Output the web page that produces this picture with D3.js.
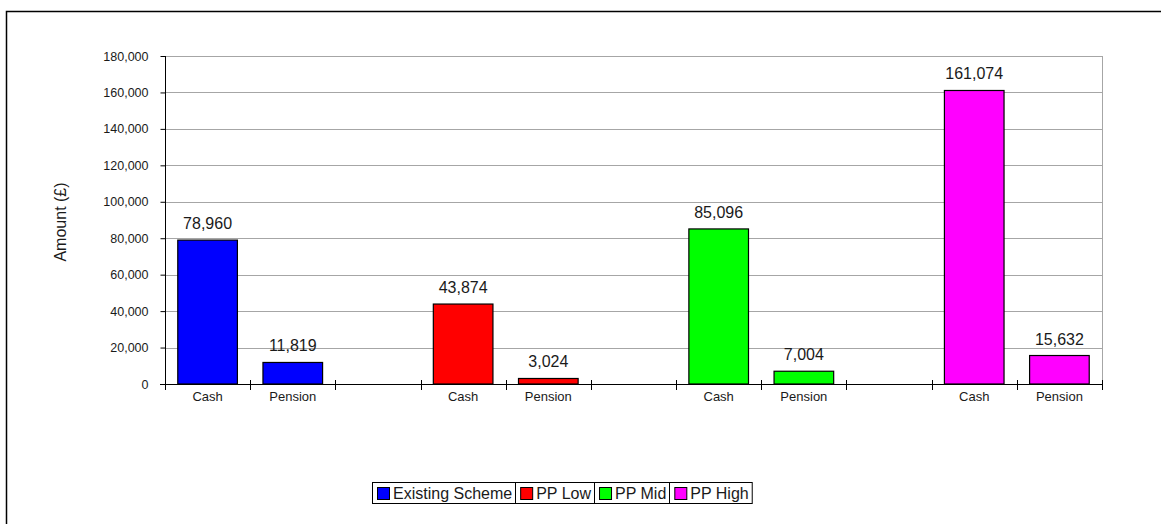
<!DOCTYPE html>
<html>
<head>
<meta charset="utf-8">
<script src="https://cdn.jsdelivr.net/npm/d3@7"></script>
<style>
  html, body { margin: 0; padding: 0; background: #fff; }
  svg { display: block; font-family: "Liberation Sans", Arial, sans-serif; }
</style>
</head>
<body>
<svg id="chart" width="1161" height="524"></svg>
<script>
// Pension options: cash lump sum vs annual pension
const seriesNames = ["Existing Scheme", "PP Low", "PP Mid", "PP High"];
const seriesColors = ["#0000ff", "#ff0000", "#00ff00", "#ff00ff"];
const itemLabels = ["Cash", "Pension"];
const existingScheme = [78960, 11819];
const ppLow = [43874, 3024];
const ppMid = [85096, 7004];
const ppHigh = [161074, 15632];
const yTicks = [0, 20000, 40000, 60000, 80000, 100000, 120000, 140000, 160000, 180000];

const seriesValues = [existingScheme, ppLow, ppMid, ppHigh];

// Slots along the x axis: Cash, Pension, spacer for each series (no spacer after the last)
const slots = [];
seriesValues.forEach((vals, si) => {
  vals.forEach((v, i) => slots.push({ key: si + "-" + i, label: itemLabels[i], value: v, series: si }));
  if (si < seriesValues.length - 1) slots.push({ key: "gap-" + si, label: "", value: null, series: si });
});

const svg = d3.select("#chart");
const plotL = 165, plotR = 1102, plotT = 56, plotB = 384;

// outer frame
svg.append("rect").attr("x", 6.5).attr("y", 11.5).attr("width", 1170).attr("height", 540)
  .attr("fill", "none").attr("stroke", "#000").attr("stroke-width", 1.5);

const x = d3.scaleBand().domain(slots.map(d => d.key)).range([plotL, plotR]).paddingInner(0).paddingOuter(0);
const y = d3.scaleLinear().domain([0, 180000]).range([plotB, plotT]);

// gridlines
svg.append("g").selectAll("line").data(yTicks.filter(t => t > 0)).join("line")
  .attr("x1", plotL).attr("x2", plotR)
  .attr("y1", d => Math.round(y(d)) + 0.5).attr("y2", d => Math.round(y(d)) + 0.5)
  .attr("stroke", "#a6a6a6").attr("stroke-width", 1);
// right edge of plot
svg.append("line").attr("x1", plotR + 0.5).attr("x2", plotR + 0.5).attr("y1", plotT).attr("y2", plotB)
  .attr("stroke", "#a6a6a6");

// bars
const bw = x.bandwidth() * 0.7;
svg.append("g").selectAll("rect").data(slots.filter(d => d.value !== null)).join("rect")
  .attr("x", d => x(d.key) + (x.bandwidth() - bw) / 2)
  .attr("y", d => y(d.value))
  .attr("width", bw)
  .attr("height", d => y(0) - y(d.value))
  .attr("fill", d => seriesColors[d.series])
  .attr("stroke", "#000").attr("stroke-width", 1.2);

// value labels
svg.append("g").selectAll("text").data(slots.filter(d => d.value !== null)).join("text")
  .attr("x", d => x(d.key) + x.bandwidth() / 2)
  .attr("y", d => y(d.value) - 11)
  .attr("text-anchor", "middle")
  .attr("font-size", 16).attr("fill", "#1a1a1a")
  .text(d => d3.format(",")(d.value));

// y axis
const yAxis = d3.axisLeft(y).tickValues(yTicks).tickFormat(d3.format(",")).tickSize(5).tickPadding(12);
const ya = svg.append("g").attr("transform", `translate(${plotL + 0.5},0)`).call(yAxis);
ya.select(".domain").attr("stroke", "#000").attr("d", `M0,${plotT}V${plotB}`);
ya.selectAll(".tick line").attr("stroke", "#000");
ya.selectAll(".tick text").attr("font-size", 12.5).attr("fill", "#1a1a1a")
  .attr("font-family", "Liberation Sans, Arial, sans-serif");

// x axis: baseline with boundary ticks between slots
svg.append("line").attr("x1", plotL - 5).attr("x2", plotR).attr("y1", plotB + 0.5).attr("y2", plotB + 0.5)
  .attr("stroke", "#000");
const bounds = slots.map(d => x(d.key)).concat([plotR]);
svg.append("g").selectAll("line").data(bounds).join("line")
  .attr("x1", d => Math.round(d) + 0.5).attr("x2", d => Math.round(d) + 0.5)
  .attr("y1", plotB - 4).attr("y2", plotB + 6)
  .attr("stroke", "#000");
svg.append("g").selectAll("text").data(slots.filter(d => d.label)).join("text")
  .attr("x", d => x(d.key) + x.bandwidth() / 2)
  .attr("y", plotB + 17)
  .attr("text-anchor", "middle").attr("font-size", 13).attr("fill", "#1a1a1a")
  .text(d => d.label);

// axis title
svg.append("text").attr("transform", "translate(66,222) rotate(-90)")
  .attr("text-anchor", "middle").attr("font-size", 16).attr("fill", "#1a1a1a")
  .text("Amount (£)");

// legend
const legend = svg.append("g");
const lx0 = 372, ly = 482, lh = 21;
let cx = lx0;
const entryBounds = [];
seriesNames.forEach((name, i) => {
  const g = legend.append("g");
  g.append("rect").attr("x", cx + 5.5).attr("y", ly + 5.5).attr("width", 12).attr("height", 12)
    .attr("fill", seriesColors[i]).attr("stroke", "#000").attr("stroke-width", 1);
  const t = g.append("text").attr("x", cx + 21).attr("y", ly + 17)
    .attr("font-size", 16).attr("fill", "#1a1a1a").text(name);
  const w = t.node().getComputedTextLength();
  const next = cx + 21 + w + 3;
  entryBounds.push(next);
  cx = next;
});
legend.append("rect").attr("x", lx0 + 0.5).attr("y", ly + 0.5).attr("width", cx - lx0).attr("height", lh)
  .attr("fill", "none").attr("stroke", "#000").attr("stroke-width", 1);
legend.selectAll("line.sep").data(entryBounds.slice(0, -1)).join("line")
  .attr("x1", d => Math.round(d) + 0.5).attr("x2", d => Math.round(d) + 0.5)
  .attr("y1", ly).attr("y2", ly + lh).attr("stroke", "#000");
</script>
</body>
</html>
